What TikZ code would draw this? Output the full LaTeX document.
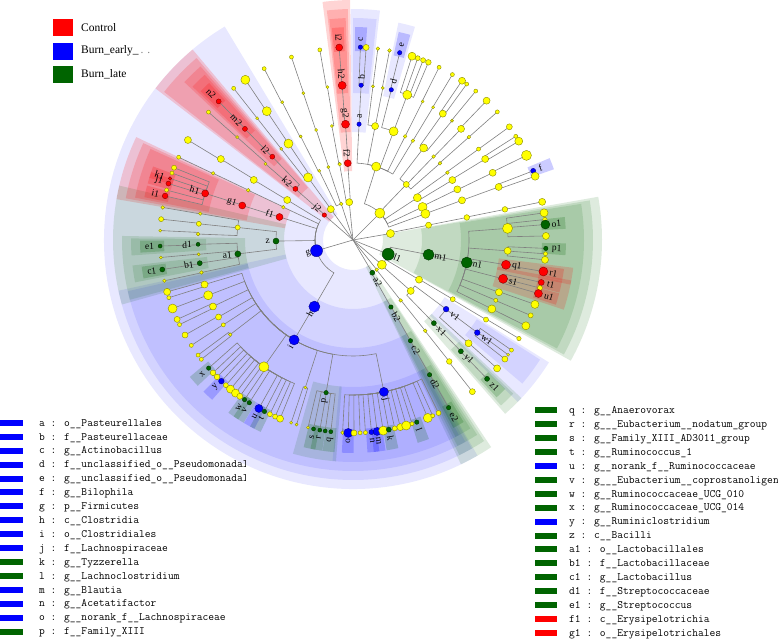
\documentclass[tikz,border=0pt]{standalone}
\usepackage{fontspec}
\setmainfont{Liberation Serif}
\definecolor{ctrl}{RGB}{255,0,0}
\definecolor{early}{RGB}{0,0,255}
\definecolor{late}{RGB}{0,100,0}
\definecolor{ns}{RGB}{255,255,0}
\definecolor{branchgray}{RGB}{128,128,128}
\tikzset{
  branch/.style={draw=branchgray, line width=0.6pt},
  clnode/.style={circle, inner sep=0pt, line width=0.4pt},
  cllabel/.style={inner sep=0pt, font=\fontsize{9.5}{9.5}\selectfont},
  legtext/.style={inner sep=0pt, anchor=base west, font=\ttfamily\fontsize{11.2}{12}\selectfont},
  keytext/.style={inner sep=0pt, anchor=west, font=\fontsize{11.5}{12}\selectfont},
}
% radius of each taxonomic level
\newcommand\levrad[1]{\ifcase\numexpr#1\relax 0\or 38\or 77\or 116\or 155\or 193\fi}
\def\oR{0.17}\def\oB{0.09}\def\oG{0.13}
% name/angle/level/parent angle/size/colour
\def\cladelist{%
 a2/-59.4/1/0/2.5/late, b2/-60.5/2/-59.4/2.2/late, c2/-60.3/3/-60.5/2.2/late, d2/-60.4/4/-60.3/2.2/late, e2/-60.3/5/-60.4/2.2/late,
 p2/-51.4/1/0/1.8/ns, p2c/-51.7/2/-51.4/1.8/ns, p2o/-51.5/3/-51.7/1.8/ns, p2f/-51.6/4/-51.5/2.8/ns, p2g/-51.8/5/-51.6/3/ns,
 p3/-40.6/1/0/4.5/ns, p3c1/-31/2/-40.6/3.5/ns, p3o1/-30.7/3/-31/2.5/ns, p3f1/-30.9/4/-30.7/2.5/ns, p3g1/-30.7/5/-30.9/2.2/ns,
 p3c2/-41.4/2/-40.6/3.5/ns, v1/-36.6/3/-41.4/2.8/early, w1/-36.7/4/-36.6/2.8/early,
 w1g1/-34.8/5/-36.7/2/ns, w1g2/-36.5/5/-36.7/1.5/ns, w1g3/-38.1/5/-36.7/3/ns,
 v1f/-41.8/4/-36.6/3.5/ns, v1g/-41.7/5/-41.8/3.5/ns,
 x1/-45.8/3/-41.4/2.5/late, y1/-45.9/4/-45.8/2.5/late, z1/-46/5/-45.9/2.5/late,
 l1/-22/1/0/6/late, m1/-11/2/-22/5.5/late, n1/-11.2/3/-11/5.5/late,
 f43/4.3/4/-11.2/5/ns, g81/8.1/5/4.3/4/ns, g61/6.1/5/4.3/2.2/ns, o1/4.6/5/4.3/4.5/late, g12/1.2/5/4.3/3.5/ns,
 fm4/-4/4/-11.2/3.5/ns, p1/-2.5/5/-4/2.2/late, gm41/-4.1/5/-4/2/ns, gm59/-5.9/5/-4/3.5/ns,
 q1/-9.2/4/-11.2/4.5/ctrl, r1/-9.4/5/-9.2/4.5/ctrl,
 s1/-14.5/4/-11.2/4.5/ctrl, t1/-12.7/5/-14.5/3/ctrl, gm144/-14.4/5/-14.5/2.5/ns, u1/-16.1/5/-14.5/4/ctrl,
 fm197/-19.7/4/-11.2/3.5/ns, gm195/-19.5/5/-19.7/4/ns,
 fm229/-22.9/4/-11.2/2/ns, gm23/-23/5/-22.9/2.5/ns,
 fm264/-26.4/4/-11.2/4/ns, gm264/-26.4/5/-26.4/4/ns,
 p5/9.8/1/0/4/ns, p5c/11.1/2/9.8/3/ns, p5o/11.2/3/11.1/2.8/ns, p5f/11.4/4/11.2/2.8/ns, p5g/11.4/5/11.4/3.5/ns,
 p6/45/1/0/5/ns,
 c725/72.5/2/45/4.5/ns,
 a/87/3/72.5/2.2/early, b/87/4/87/2.2/early, c/87.8/5/87/2.2/early, g861/86.1/5/87/3/ns,
 o79/79/3/72.5/3.5/ns, f826/82.6/4/79/1.5/ns, g826/82.6/5/82.6/1.8/ns, f789/78.9/4/79/1.5/ns, g791/79.1/5/78.9/1.8/ns,
 o695/69.5/3/72.5/4.5/ns, d/75.7/4/69.5/2.2/early, e/76/5/75.7/2.2/early,
 f695/69.5/4/69.5/4.5/ns, g722/72.2/5/69.5/4/ns, g704/70.4/5/69.5/2.5/ns, g687/68.7/5/69.5/2.5/ns, g67/67/5/69.5/2.8/ns,
 o633/63.3/3/72.5/1.8/ns, f633/63.3/4/63.3/1.5/ns, g635/63.5/5/63.3/2/ns,
 o589/58.9/3/72.5/1.8/ns, f589/58.9/4/58.9/1.5/ns, g59/59/5/58.9/2/ns,
 c462/46.2/2/45/3/ns,
 o525/52.5/3/46.2/4/ns, f546/54.6/4/52.5/3.5/ns, g556/55.6/5/54.6/3.5/ns, g539/53.9/5/54.6/2/ns,
 f503/50.3/4/52.5/1.5/ns, g505/50.5/5/50.3/2/ns,
 o46/46/3/46.2/1.8/ns, f458/45.8/4/46/3.5/ns, g462/46.2/5/45.8/3.5/ns,
 o414/41.4/3/46.2/1.8/ns, f416/41.6/4/41.4/1.8/ns, g416/41.6/5/41.6/2/ns,
 c333/33.3/2/45/4/ns,
 o355/35.5/3/33.3/1.8/ns, f359/35.9/4/35.5/2/ns, g359/35.9/5/35.9/3/ns,
 o311/31.1/3/33.3/3.5/ns, f315/31.5/4/31.1/3.5/ns, g325/32.5/5/31.5/2/ns, g308/30.8/5/31.5/4/ns,
 c254/25.4/2/45/4.5/ns, o259/25.9/3/25.4/3.5/ns, f257/25.7/4/25.9/3.5/ns, g26/26/5/25.7/5/ns,
 c199/19.9/2/45/4.5/ns, o20/20/3/19.9/3.5/ns, f20/20/4/20/3.5/ns, f/21/5/20/2.5/early, g193/19.3/5/20/4/ns,
 p7/95.7/1/0/3.5/ns, f2/93.9/2/95.7/3.5/ctrl, g2/93.7/3/93.9/4/ctrl, h2/94/4/93.7/4/ctrl, i2/94.1/5/94/3.5/ctrl,
 c100/100/2/95.7/1.8/ns, o100/100.5/3/100/1.5/ns, f995/99.5/4/100.5/1.5/ns, g999/99.9/5/99.5/2/ns,
 p8/108/1/0/1.8/ns, c1087/108.7/2/108/1.5/ns, o1085/108.5/3/108.7/1.5/ns, f1087/108.7/4/108.5/1.5/ns, g1086/108.6/5/108.7/2/ns,
 c116/116/2/108/1.5/ns, o1168/116.8/3/116/1.5/ns, f1172/117.2/4/116.8/1.5/ns, g1174/117.4/5/117.2/2/ns,
 p9/125.7/1/0/3.5/ns, c1257/125.7/2/125.7/4.5/ns, o1238/123.8/3/125.7/4.5/ns, f1238/123.8/4/123.8/4.5/ns, g1239/123.9/5/123.8/4.5/ns,
 o128/128.2/3/125.7/1.5/ns, f128/128.2/4/128.2/1.5/ns, g1282/128.2/5/128.2/2/ns,
 j2/139/1/0/2.2/ctrl, k2/138.4/2/139/2.5/ctrl, l2/134.1/3/138.4/2.5/ctrl, m2/134.2/4/134.1/2.5/ctrl, n2/134.1/5/134.2/2.5/ctrl,
 o139/139/3/138.4/1.5/ns, f1384/138.4/4/139/1.5/ns, g1385/138.5/5/138.4/2/ns,
 g/196.4/1/0/6/early,
 c1487/148.7/2/196.4/3.5/ns, o1488/148.8/3/148.7/3.5/ns, f1485/148.5/4/148.8/3.5/ns, g1488/148.8/5/148.5/3.5/ns,
 c1548/154.8/2/196.4/1.8/ns, o1546/154.6/3/154.8/1.8/ns, f1545/154.5/4/154.6/1.8/ns, g1546/154.6/5/154.5/2/ns,
 f1/162.6/2/196.4/3.5/ctrl, g1/162.7/3/162.6/3.5/ctrl, h1/162.5/4/162.7/3.5/ctrl,
 g158/158/5/162.5/2.5/ns, g1597/159.7/5/162.5/2/ns, k1/161.4/5/162.5/1.8/ctrl, j1/163/5/162.5/2.5/ctrl, g165/165/5/162.5/2/ns, i1/166.8/5/162.5/2.8/ctrl,
 z/180.8/2/196.4/3/late,
 o1738/173.8/3/180.8/2.5/ns, f1702/170.2/4/173.8/1.8/ns, g1703/170.3/5/170.2/1.8/ns, f174/174/4/173.8/2.5/ns, g1738/173.8/5/174/2.5/ns, f1778/177.8/4/173.8/1.8/ns, g1772/177.2/5/177.8/1.5/ns,
 a1/186.9/3/180.8/3/late, d1/181.6/4/186.9/2/late, e1/181.8/5/181.6/2/late, f1853/185.3/4/186.9/1.5/ns, g1852/185.2/5/185.3/1.5/ns,
 b1/188.6/4/186.9/2.5/late, c1/188.8/5/188.6/2.5/late, f1921/192.1/4/186.9/1.8/ns, g1922/192.2/5/192.1/1.8/ns,
 h/239.9/2/196.4/5.5/early, i/239.5/3/239.9/5/early,
 f1967/196.7/4/239.5/3.5/ns, g1956/195.6/5/196.7/3.5/ns, g1974/197.4/5/196.7/2/ns,
 f2009/200.9/4/239.5/4.5/ns, g2008/200.8/5/200.9/4.5/ns,
 f2054/205.4/4/239.5/3.5/ns, g2043/204.3/5/205.4/3/ns, g206/206/5/205.4/2/ns,
 f2098/209.8/4/239.5/3/ns, g2095/209.5/5/209.8/3/ns,
 f2132/213.2/4/239.5/2/ns, g2131/213.1/5/213.2/2/ns,
 f2176/217.6/4/239.5/1.8/ns, g2166/216.6/5/217.6/2/ns, g2182/218.2/5/217.6/2/ns,
 f2349/234.9/4/239.5/5/ns, x/221.6/5/234.9/2.2/late, g2235/223.5/5/234.9/2.8/ns, g2252/225.2/5/234.9/2.8/ns, y/227/5/234.9/2.8/early,
 g2288/228.8/5/234.9/2.5/ns, g2306/230.6/5/234.9/4/ns, g2325/232.5/5/234.9/4/ns, g2341/234.1/5/234.9/3/ns,
 w/235.8/5/234.9/2.2/late, v/237.5/5/234.9/2.2/late, u/240.8/5/234.9/4/early, t/242.7/5/234.9/2.2/late,
 g2445/244.5/5/234.9/2.5/ns, g2462/246.2/5/234.9/2.5/ns, g2478/247.8/5/234.9/3.5/ns,
 f2521/252.1/4/239.5/1.5/ns, g2513/251.3/5/252.1/1.5/ns, g253/253/5/252.1/1.5/ns,
 p/260/4/239.5/2.2/late, g2565/256.5/5/260/1.5/ns, s/258.2/5/260/2/late, r/260.1/5/260/2/late, g2617/261.7/5/260/2/late, q/263.4/5/260/2/late,
 j/281.5/4/239.5/4.5/early, g2669/266.9/5/281.5/1.8/ns, o/268.6/5/281.5/4.5/early, g2703/270.3/5/281.5/3/ns,
 g2721/272.1/5/281.5/2/ns, g2737/273.7/5/281.5/2/ns, n/275.5/5/281.5/2.5/early, m/277.2/5/281.5/4/early,
 g279/279/5/281.5/4.5/ns, k/280.7/5/281.5/2.5/late, g2825/282.5/5/281.5/2.5/ns, g2842/284.2/5/281.5/3.5/ns,
 g286/286/5/281.5/4.5/ns, g2878/287.8/5/281.5/2/ns, l/289.3/5/281.5/2.2/late,
 g2928/292.8/5/281.5/4.5/ns, g2944/294.4/5/281.5/2/ns, g2963/296.3/5/281.5/2.5/ns}
% colour/opacity/start/end/level
\def\sectorlist{%
 early/\oB/121/300/1, late/\oG/-29/10/1, late/\oG/-64.3/-56.3/1, ctrl/\oR/130.1/142.5/1,
 early/\oB/192.2/299.7/2, late/\oG/-28.5/9.5/2, late/\oG/-63.7/-56.9/2, ctrl/\oR/130.7/141.9/2,
 ctrl/\oR/154.6/170.2/2, ctrl/\oR/90.7/97.3/2, late/\oG/166.9/195.6/2,
 early/\oB/83.3/90.6/3, early/\oB/192.8/299.1/3, early/\oB/-44.5/-32/3, late/\oG/-48.8/-43.2/3,
 late/\oG/-28/9/3, late/\oG/-63.1/-57.5/3, late/\oG/179/195/3, ctrl/\oR/131.3/136.9/3,
 ctrl/\oR/155.2/169.6/3, ctrl/\oR/91.3/96.5/3,
 early/\oB/83.9/90/4, early/\oB/73.8/78.2/4, early/\oB/264.7/298.5/4, early/\oB/-40.3/-32.6/4,
 late/\oG/-48.2/-43.8/4, late/\oG/-62.5/-58.1/4, late/\oG/254.3/265.6/4, late/\oG/186.6/191/4,
 late/\oG/179.6/184/4, ctrl/\oR/131.9/136.3/4, ctrl/\oR/155.8/169/4, ctrl/\oR/91.9/96.1/4,
 ctrl/\oR/-11.6/-7.2/4, ctrl/\oR/-18.3/-10.5/4}
% highlighted genera
\def\genuslist{%
 early/87.8, early/76, early/21, early/277.2, early/275.5, early/268.6, early/240.8, early/227,
 late/4.6, late/-2.5, late/-46, late/-60.3, late/280.7, late/289.3, late/263.4, late/260.1, late/258.2,
 late/242.7, late/237.5, late/235.8, late/221.6, late/188.8, late/181.8,
 ctrl/94.1, ctrl/134.1, ctrl/166.8, ctrl/163, ctrl/161.4, ctrl/-9.4, ctrl/-12.7, ctrl/-16.1}
\def\labellist{%
 a/87/3, b/87/4, c/87.8/5, d/75.7/4, e/76/5, f/21/5, g/196.4/1, h/239.9/2, i/239.5/3, j/281.5/4,
 k/280.7/5, l/289.3/5, m/277.2/5, n/275.5/5, o/268.6/5, p/260/4, q/263.4/5, r/260.1/5, s/258.2/5,
 t/242.7/5, u/240.8/5, v/237.5/5, w/235.8/5, x/221.6/5, y/227/5, z/180.8/2,
 a1/186.9/3, b1/188.6/4, c1/188.8/5, d1/181.6/4, e1/181.8/5, f1/162.6/2, g1/162.7/3, h1/162.5/4,
 i1/166.8/5, j1/163/5, k1/161.4/5, l1/-22/1, m1/-11/2, n1/-11.2/3, o1/4.6/5, p1/-2.5/5, q1/-9.2/4,
 r1/-9.4/5, s1/-14.5/4, t1/-12.7/5, u1/-16.1/5, v1/-36.6/3, w1/-36.7/4, x1/-45.8/3, y1/-45.9/4,
 z1/-46/5, a2/-59.4/1, b2/-60.5/2, c2/-60.3/3, d2/-60.4/4, e2/-60.3/5, f2/93.9/2, g2/93.7/3,
 h2/94/4, i2/94.1/5, j2/139/1, k2/138.4/2, l2/134.1/3, m2/134.2/4, n2/134.1/5}

\begin{document}
\begin{tikzpicture}[x=1pt,y=1pt]
\useasboundingbox (0,0) rectangle (778,642);

% cladogram
\begin{scope}[shift={(353,402)}]
  \coordinate (root) at (0,0);
  % shaded clades
  \foreach \cl/\op/\sa/\ea/\lv in \sectorlist {
    \edef\rr{\levrad{\lv}}
    \pgfmathsetmacro\ri{\rr-8}
    \pgfmathsetmacro\ro{213+9*(5-\lv)}
    \fill[fill=\cl, fill opacity=\op] (\sa:\ri) arc[start angle=\sa, end angle=\ea, radius=\ri]
      -- (\ea:\ro) arc[start angle=\ea, end angle=\sa, radius=\ro] -- cycle;
  }
  \foreach \cl/\ang in \genuslist {
    \fill[fill=\cl, fill opacity=0.2] (\ang-1.6:189) arc[start angle=\ang-1.6, end angle=\ang+1.6, radius=189]
      -- (\ang+1.6:213) arc[start angle=\ang+1.6, end angle=\ang-1.6, radius=213] -- cycle;
  }
  % positions
  \foreach \nm/\ang/\lv/\pa/\sz/\cl in \cladelist {
    \edef\rr{\levrad{\lv}}
    \coordinate (n-\nm) at (\ang:\rr);
  }
  % branches
  \foreach \nm/\ang/\lv/\pa/\sz/\cl in \cladelist {
    \edef\rp{\levrad{\lv-1}}
    \ifnum\lv=1
      \draw[branch] (n-\nm) -- (root);
    \else
      \draw[branch] (n-\nm) -- (\ang:\rp) arc[start angle=\ang, end angle=\pa, radius=\rp];
    \fi
  }
  % nodes
  \foreach \nm/\ang/\lv/\pa/\sz/\cl in \cladelist {
    \node[clnode, fill=\cl, draw=\cl!55!black, minimum size=2*\sz*1pt] at (n-\nm) {};
  }
  % labels
  \foreach \nm/\ang/\lv in \labellist {
    \edef\rr{\levrad{\lv}}
    \pgfmathsetmacro\rl{\rr+6}
    \pgfmathtruncatemacro\isright{cos(\ang)>=0}
    \ifnum\isright=1
      \node[cllabel, rotate=\ang, anchor=west] at (\ang:\rl) {\nm};
    \else
      \node[cllabel, rotate=\ang-180, anchor=east] at (\ang:\rl) {\nm};
    \fi
  }
\end{scope}

% group key
\fill[ctrl] (52.7,606) rectangle (73.3,623);
\fill[early] (52.7,582) rectangle (73.3,599.3);
\fill[late] (52.7,559) rectangle (73.3,576);
\node[keytext] (k-ctrl) at (81,614.5) {Control};
\node[keytext] (k-early) at (81,591) {Burn\_early\_{\color{gray}\,. .}};
\node[keytext] (k-late) at (81,567.5) {Burn\_late};

% left legend
\begin{scope}
  \clip (0,0) rectangle (245,642);
  \foreach \txt/\cl [count=\k from 0] in {
    {a : o\_\_Pasteurellales}/early, {b : f\_\_Pasteurellaceae}/early, {c : g\_\_Actinobacillus}/early,
    {d : f\_\_unclassified\_o\_\_Pseudomonadales}/early, {e : g\_\_unclassified\_o\_\_Pseudomonadales}/early,
    {f : g\_\_Bilophila}/early, {g : p\_\_Firmicutes}/early, {h : c\_\_Clostridia}/early,
    {i : o\_\_Clostridiales}/early, {j : f\_\_Lachnospiraceae}/early, {k : g\_\_Tyzzerella}/late,
    {l : g\_\_Lachnoclostridium}/late, {m : g\_\_Blautia}/early, {n : g\_\_Acetatifactor}/early,
    {o : g\_\_norank\_f\_\_Lachnospiraceae}/early, {p : f\_\_Family\_XIII}/late} {
    \pgfmathsetmacro\yy{219-13.9*\k}
    \fill[\cl] (0,\yy-3) rectangle (23,\yy+3);
    \node[legtext] at (39,\yy-3.2) {\txt};
  }
\end{scope}

% right legend
\foreach \txt/\cl [count=\k from 0] in {
  {q : g\_\_Anaerovorax}/late, {r : g\_\_\_Eubacterium\_\_nodatum\_group}/late,
  {s : g\_\_Family\_XIII\_AD3011\_group}/late, {t : g\_\_Ruminococcus\_1}/late,
  {u : g\_\_norank\_f\_\_Ruminococcaceae}/early, {v : g\_\_\_Eubacterium\_\_coprostanoligenes}/late,
  {w : g\_\_Ruminococcaceae\_UCG\_010}/late, {x : g\_\_Ruminococcaceae\_UCG\_014}/late,
  {y : g\_\_Ruminiclostridium}/early, {z : c\_\_Bacilli}/late, {a1 : o\_\_Lactobacillales}/late,
  {b1 : f\_\_Lactobacillaceae}/late, {c1 : g\_\_Lactobacillus}/late, {d1 : f\_\_Streptococcaceae}/late,
  {e1 : g\_\_Streptococcus}/late, {f1 : c\_\_Erysipelotrichia}/ctrl, {g1 : o\_\_Erysipelotrichales}/ctrl} {
  \pgfmathsetmacro\yy{231.5-13.9*\k}
  \fill[\cl] (535,\yy-3) rectangle (557,\yy+3);
  \node[legtext] at (569,\yy-3.2) {\txt};
}
\end{tikzpicture}
\end{document}
